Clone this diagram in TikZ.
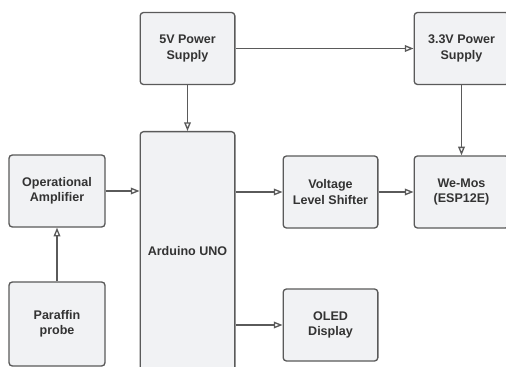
\documentclass[tikz,border=0pt]{standalone}
\usepackage{fontspec}
\setmainfont{Liberation Sans}
\usepackage{tikz}
\usetikzlibrary{arrows.meta, positioning}
\definecolor{cLine}{HTML}{5A5A5A}
\definecolor{cFill}{HTML}{F1F2F4}
\definecolor{cText}{HTML}{333333}
\tikzset{
  blkbox/.style={rectangle, rounded corners=2.5pt, draw=cLine, fill=cFill,
                 line width=1pt, minimum width=71pt, minimum height=54pt,
                 align=center, text=cText,
                 font=\fontsize{9.4}{11.5}\selectfont\bfseries},
  blkarrow/.style={-{Triangle[open, length=6.5pt, width=5pt]}, line width=1pt, cLine},
}
\begin{document}
\begin{tikzpicture}[x=0.75pt, y=-0.75pt]
  \clip (0,0) rectangle (506,367);
  \fill[white] (0,0) rectangle (506,367);
  % Alimentacao
  \node[blkbox] (psu5) at (187.5,48.5) {5V Power\\Supply};
  \node[blkbox] (psu33) at (461.5,48.5) {3.3V Power\\Supply};
  % Controlador
  \node[blkbox, minimum height=179pt] (uno) at (187.5,251) {Arduino UNO};
  % Entrada
  \node[blkbox, minimum width=72pt] (opamp) at (57,191) {Operational\\Amplifier};
  \node[blkbox, minimum width=72pt, minimum height=63pt] (probe) at (57,324) {Paraffin\\probe};
  % Saidas
  \node[blkbox] (shifter) at (330.5,192) {Voltage\\Level Shifter};
  \node[blkbox] (wemos) at (461.5,192) {We-Mos\\(ESP12E)};
  \node[blkbox] (oled) at (330.5,325) {OLED\\Display};
  % Setas
  \draw[blkarrow] (psu5) -- (psu33);
  \draw[blkarrow] (psu5) -- (uno);
  \draw[blkarrow] (psu33) -- (wemos);
  \draw[blkarrow] (probe) -- (opamp);
  \draw[blkarrow] (opamp.east) -- (opamp.east -| uno.west);
  \draw[blkarrow] (uno.east |- shifter) -- (shifter);
  \draw[blkarrow] (shifter) -- (wemos);
  \draw[blkarrow] (uno.east |- oled) -- (oled);
\end{tikzpicture}
\end{document}
